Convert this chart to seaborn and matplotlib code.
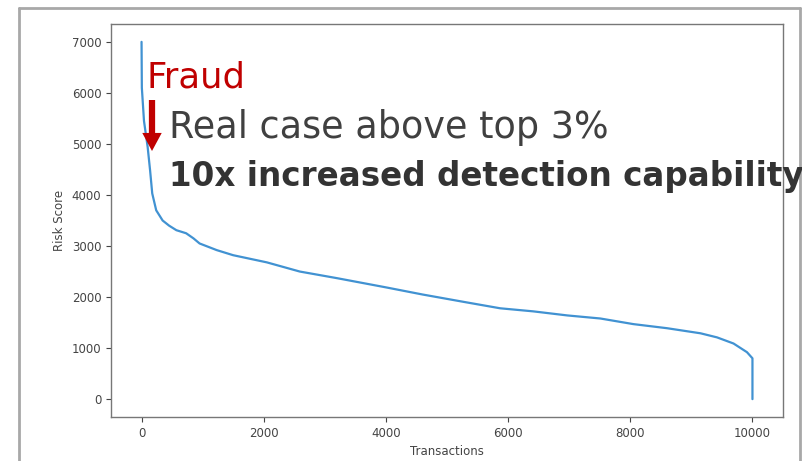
import matplotlib
matplotlib.use("Agg")
import matplotlib.pyplot as plt
import seaborn as sns
import pandas as pd
from matplotlib.lines import Line2D

# risk scores (transaction rank -> score)
ranks = [0, 5, 40, 100, 140, 175, 240, 345, 450, 570, 730, 850, 950, 1230,
         1500, 2050, 2590, 3200, 4000, 4600, 5300, 5870, 6410, 6970, 7510,
         8050, 8600, 9150, 9420, 9690, 9910, 10000, 10000]
scores = [7000, 6100, 5450, 4940, 4480, 4030, 3700, 3500, 3400, 3310, 3250,
          3150, 3050, 2920, 2820, 2680, 2500, 2370, 2190, 2050, 1900, 1780,
          1720, 1640, 1580, 1470, 1390, 1290, 1210, 1090, 920, 800, 0]
x_ticks = [0, 2000, 4000, 6000, 8000, 10000]
y_ticks = [0, 1000, 2000, 3000, 4000, 5000, 6000, 7000]

df = pd.DataFrame({'Transactions': ranks, 'Risk Score': scores})

sns.set_style("ticks")
plt.rcParams['font.family'] = ['DejaVu Sans']

W, H = 803, 461
fig = plt.figure(figsize=(W / 100, H / 100), dpi=100)
ax = fig.add_axes([111 / W, 1 - 417 / H, (783 - 111) / W, (417 - 24) / H])

sns.lineplot(data=df, x='Transactions', y='Risk Score', ax=ax,
             estimator=None, sort=False, color='#4192d2', linewidth=1.6)

ax.set_xticks(x_ticks)
ax.set_yticks(y_ticks)
ax.set_xlim(-500, 10500)
ax.set_ylim(-350, 7350)
ax.tick_params(labelsize=8.5, colors='#444444', length=3.5, width=0.8)
ax.set_xlabel('Transactions', fontsize=8.5, color='#444444')
ax.set_ylabel('Risk Score', fontsize=8.5, color='#444444')
for s in ax.spines.values():
    s.set_color('#777777')
    s.set_linewidth(1)

# slide frame around the screenshot
frame = '#a8a8a8'
fig.add_artist(Line2D([19 / W, 19 / W], [0, 1 - 8.5 / H], color=frame, lw=2, transform=fig.transFigure))
fig.add_artist(Line2D([19 / W, 800 / W], [1 - 8.5 / H, 1 - 8.5 / H], color=frame, lw=2, transform=fig.transFigure))
fig.add_artist(Line2D([800 / W, 800 / W], [0, 1 - 8.5 / H], color=frame, lw=2, transform=fig.transFigure))

# annotations
fig.text(147 / W, 1 - 88 / H, 'Fraud', color='#c00000', fontsize=25.5, va='baseline')
fig.text(169 / W, 1 - 138 / H, 'Real case above top 3%', color='#404040', fontsize=26.3, va='baseline')
fig.text(169 / W, 1 - 186 / H, '10x increased detection capability', color='#333333',
         fontsize=23.5, fontweight='bold', va='baseline')
ax.annotate('', xy=(152 / W, 1 - 151 / H), xycoords='figure fraction',
            xytext=(152 / W, 1 - 100 / H), textcoords='figure fraction',
            arrowprops=dict(facecolor='#c00000', edgecolor='none', width=4.5,
                            headwidth=14, headlength=13))

fig.savefig('out.png', dpi=100)
